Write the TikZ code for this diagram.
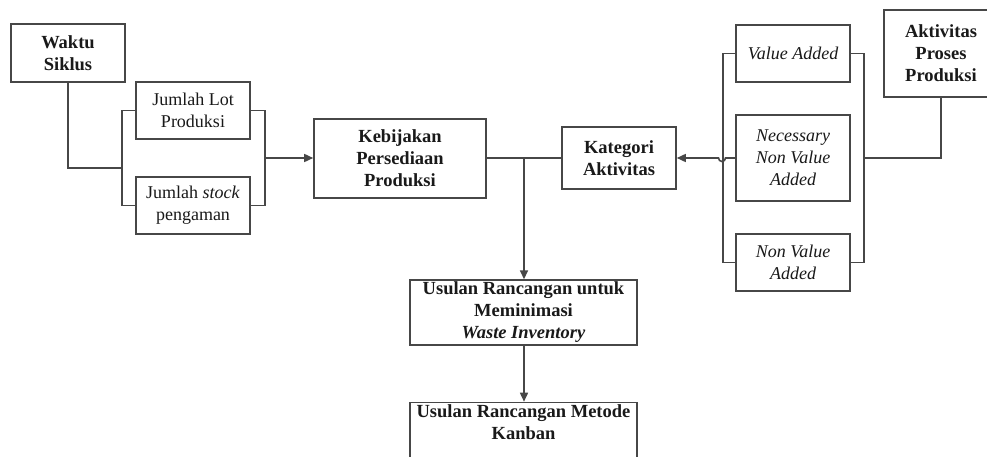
\documentclass[tikz,border=0pt]{standalone}
\usepackage{fontspec}
\setmainfont{Liberation Serif}
\usetikzlibrary{arrows.meta}
\begin{document}
\begin{tikzpicture}[x=1pt,y=-1pt,
  box/.style={draw=black!72, line width=1.6pt, fill=white, align=center, inner sep=2pt,
    font=\fontsize{18}{22}\selectfont, text=black!90},
  bbox/.style={box, font=\fontsize{18.5}{22}\selectfont\bfseries},
  ibox/.style={box, font=\fontsize{18}{22}\selectfont\itshape},
  conn/.style={draw=black!72, line width=1.6pt},
  arr/.style={conn, -{Triangle[length=9pt,width=8pt]}}]
\useasboundingbox (0,0) rectangle (987,457);
\clip (0,0) rectangle (987,457);
% left group
\node[bbox, minimum width=114, minimum height=58] (waktu) at (68,53) {Waktu\\Siklus};
\node[box, minimum width=114, minimum height=57] (lot) at (193,110.5) {Jumlah Lot\\Produksi};
\node[box, minimum width=114, minimum height=57] (stock) at (193,205.5) {Jumlah \textit{stock}\\pengaman};
\node[bbox, minimum width=172, minimum height=79] (keb) at (400,158.5) {Kebijakan\\Persediaan\\Produksi};
\node[bbox, minimum width=114, minimum height=62] (kat) at (619,158) {Kategori\\Aktivitas};
% right group
\node[ibox, minimum width=114, minimum height=57] (va) at (793,53.5) {Value Added};
\node[ibox, minimum width=114, minimum height=86] (nec) at (793,158) {Necessary\\Non Value\\Added};
\node[ibox, minimum width=114, minimum height=57] (nva) at (793,262.5) {Non Value\\Added};
\node[bbox, minimum width=114, minimum height=87] (akt) at (941,53.5) {Aktivitas\\Proses\\Produksi};
% bottom
\node[bbox, minimum width=227, minimum height=61] (u1) at (523.5,312.5) {Usulan Rancangan untuk\\Meminimasi\\\textit{Waste Inventory}};
\node[bbox, minimum width=227, minimum height=61] (u2) at (523.5,433) {Usulan Rancangan Metode\\Kanban\\\mbox{}};
% coordinates
\coordinate (lbx) at (122,0);
\coordinate (rbx) at (265,0);
\coordinate (vlx) at (723,0);
\coordinate (vrx) at (864,0);
\coordinate (lb) at (122,168);
\coordinate (rb) at (265,158);
\coordinate (j) at (524,158);
\coordinate (hop) at (725.5,158);
\coordinate (rbr) at (864,158);
% connectors left
\draw[conn] (lot.west) -- (lot.west -| lbx) -- (stock.west -| lbx) -- (stock.west);
\draw[conn] (lot.east) -- (lot.east -| rbx) -- (stock.east -| rbx) -- (stock.east);
\draw[conn] (waktu.south) |- (lb);
\draw[arr] (rb) -- (keb.west |- rb);
% center
\draw[conn] (keb.east |- j) -- (kat.west);
\draw[arr] (j) -- (u1.north -| j);
\draw[arr] (u1.south -| j) -- (u2.north -| j);
% right
\draw[conn] (va.west) -- (va.west -| vlx) -- (nva.west -| vlx) -- (nva.west);
\draw[conn] (va.east) -- (va.east -| vrx) -- (nva.east -| vrx) -- (nva.east);
\draw[conn] (akt.south) |- (rbr);
\draw[arr] (nec.west) -- (hop) arc[start angle=0, end angle=180, radius=3.5] -- (kat.east);
\end{tikzpicture}
\end{document}
